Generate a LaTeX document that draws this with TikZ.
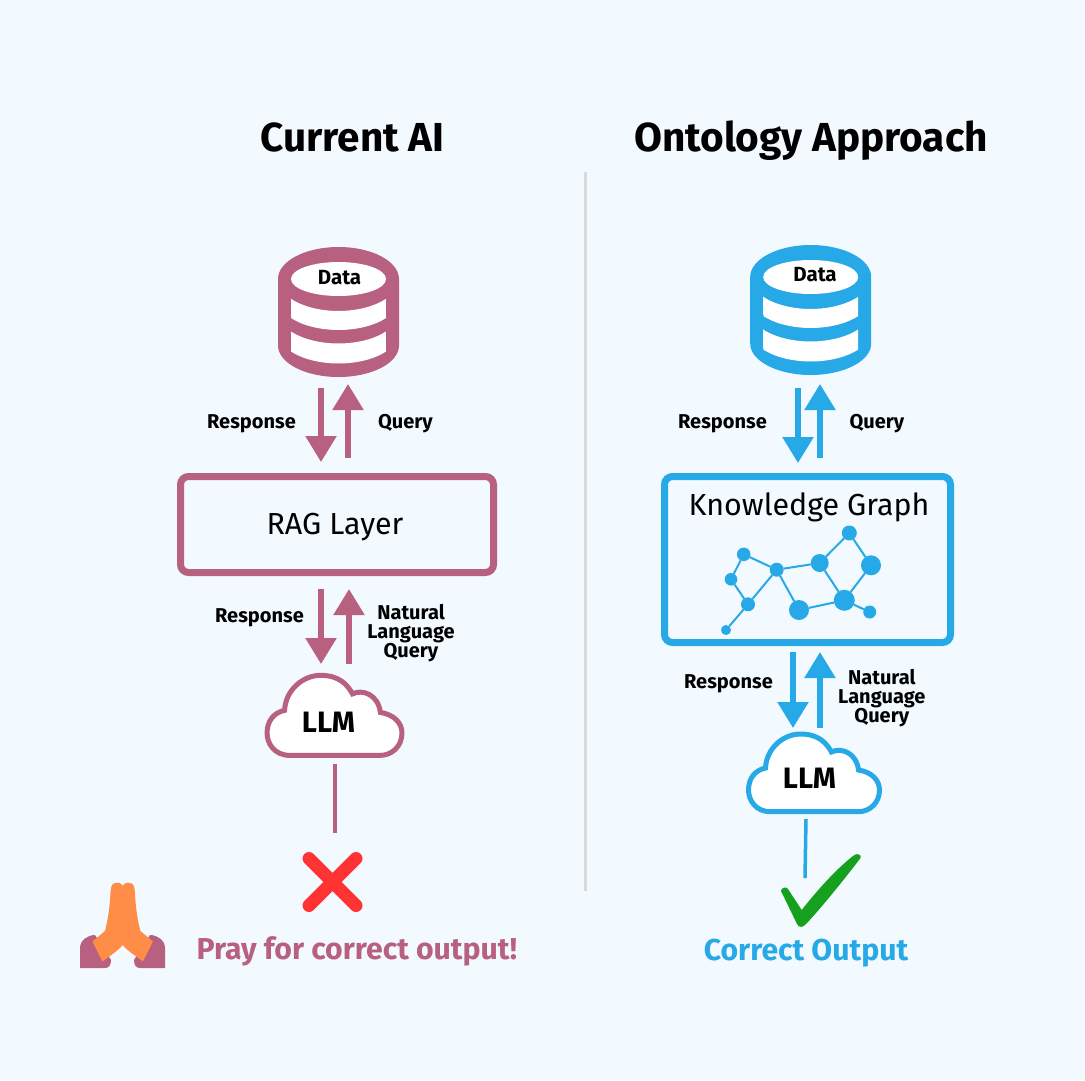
\documentclass[tikz,border=0pt]{standalone}
\usepackage{fontspec}
\setmainfont{Fira Sans}
\usetikzlibrary{arrows.meta}
\definecolor{bgc}{HTML}{F3FAFF}
\definecolor{mag}{HTML}{B8607F}
\definecolor{blu}{HTML}{27A9E8}
\definecolor{rul}{HTML}{D9D9D9}
\definecolor{okg}{HTML}{15A01E}
\definecolor{nok}{HTML}{FF3333}
\definecolor{hand}{HTML}{FF8C47}
\tikzset{
  every node/.style={inner sep=0pt,outer sep=0pt,text=black},
  arr/.style={line width=5.5pt,-{Triangle[width=30pt,length=26pt]},shorten >=0pt},
  lbl/.style={font=\fontsize{20}{20}\selectfont\bfseries,align=center},
  datal/.style={font=\fontsize{20.5}{21}\selectfont\bfseries},
  head/.style={font=\fontsize{40.5}{42}\selectfont\bfseries},
  layer/.style={font=\fontsize{30.4}{32}\selectfont},
  llm/.style={font=\fontsize{29.5}{30}\selectfont\bfseries},
  outtxt/.style={font=\fontsize{30.2}{32}\selectfont\bfseries},
  boxy/.style={line width=7pt,rounded corners=8pt},
  gn/.style={circle,fill=blu},
  ge/.style={blu,line width=2pt},
  pics/db/.style={code={
    \fill[#1] (-60.5,-33) arc[start angle=180,end angle=360,x radius=60.5,y radius=32]
      -- (60.5,33.5) arc[start angle=0,end angle=180,x radius=60.5,y radius=31.5] -- cycle;
    \fill[white] (0,-33) ellipse[x radius=47.5,y radius=17];
    \fill[white] (-47.5,-13.2) arc[start angle=141.7,end angle=38.3,x radius=60.5,y radius=32]
      -- (47.5,6) arc[start angle=38.3,end angle=141.7,x radius=60.5,y radius=31.5] -- cycle;
    \fill[white] (-47.5,19.5) arc[start angle=141.7,end angle=38.3,x radius=60.5,y radius=31.5]
      -- (47.5,39.5) arc[start angle=38.3,end angle=141.7,x radius=60.5,y radius=31.5] -- cycle;
  }},
  pics/cld/.style={code={
    \draw[#1,fill=white,line width=5pt]
     (-43,38.7) .. controls (-58,38.7) and (-65,27) .. (-65,17)
     .. controls (-65,5) and (-58,-3) .. (-48,-5)
     .. controls (-47,-25) and (-30,-39) .. (-13,-39)
     .. controls (5,-39) and (13,-30) .. (18,-21)
     .. controls (28,-26) and (43,-20) .. (45,-3)
     .. controls (58,-1) and (66,7) .. (66,17)
     .. controls (66,30) and (56,38.7) .. (45,38.7) -- cycle;
  }}
}
\begin{document}
\begin{tikzpicture}[x=1pt,y=-1pt]
\useasboundingbox (0,0) rectangle (1085,1080);
\fill[bgc] (0,0) rectangle (1085,1080);
% headings
\node[head] (h1) at (352.5,137) {Current AI};
\node[head] (h2) at (811,141) {Ontology Approach};
\coordinate (ruleT) at (585.5,172);
\coordinate (ruleB) at (585.5,891);
\draw[rul,line width=3.5pt] (ruleT) -- (ruleB);
% left column
\pic at (338.5,312) {db=mag};
\node[datal] (dataL) at (339.5,277.5) {Data};
\coordinate (a1s) at (321,388); \coordinate (a1e) at (321,462);
\coordinate (a2s) at (348,458); \coordinate (a2e) at (348,384);
\draw[arr,mag] (a1s) -- (a1e);
\draw[arr,mag] (a2s) -- (a2e);
\node[lbl] (r1) at (251.5,424) {Response};
\node[lbl] (q1) at (405.5,424) {Query};
\draw[boxy,mag] (180.5,476.5) rectangle (493.5,572.5);
\node[layer] (rag) at (335,527) {RAG Layer};
\coordinate (a3s) at (321,589); \coordinate (a3e) at (321,664);
\coordinate (a4s) at (349,664); \coordinate (a4e) at (349,589);
\draw[arr,mag] (a3s) -- (a3e);
\draw[arr,mag] (a4s) -- (a4e);
\node[lbl] (r2) at (259.5,618) {Response};
\node[lbl] (n1) at (411,633.5) {Natural\\[-1pt]Language\\[-1pt]Query};
\pic[scale=1.03] at (334,715.5) {cld=mag};
\node[llm] (llm1) at (328.5,722) {LLM};
\coordinate (l1s) at (335,764); \coordinate (l1e) at (335,833);
\draw[mag,line width=3.5pt] (l1s) -- (l1e);
\coordinate (x1) at (309,858.5); \coordinate (x2) at (356,905.5);
\coordinate (x3) at (356,858.5); \coordinate (x4) at (309,905.5);
\draw[nok,line width=13pt,line cap=round] (x1) -- (x2) (x3) -- (x4);
% praying hands
\fill[mag] (80,968) -- (80,948) .. controls (80,940) and (88,935) .. (95,935) -- (111,960) .. controls (111,965) and (109,968) .. (105,968) -- cycle;
\fill[mag] (165,968) -- (165,948) .. controls (165,940) and (157,935) .. (150,935) -- (134,960) .. controls (134,965) and (136,968) .. (140,968) -- cycle;
\fill[hand] (122.7,886) .. controls (122,883.5) and (118,882) .. (116,883) .. controls (112,883) and (111,886) .. (110.5,892) .. controls (110,905) and (108,920) .. (105,931) -- (92.5,941.5) -- (102.5,961.5) .. controls (108,957) and (118,951) .. (122.7,945)
  .. controls (127.4,951) and (137.4,957) .. (142.9,961.5) -- (152.9,941.5) -- (140.4,931) .. controls (137.4,920) and (135.4,905) .. (134.9,892) .. controls (134.4,886) and (133.4,883) .. (129.4,883) .. controls (127.4,882) and (123.4,883.5) .. (122.7,886) -- cycle;
\node[outtxt,text=mag] (pray) at (356.8,951) {Pray for correct output!};
% right column
\pic at (810.7,310) {db=blu};
\node[datal] (dataR) at (815,274.5) {Data};
\coordinate (b1s) at (798,388); \coordinate (b1e) at (798,463);
\coordinate (b2s) at (820,458); \coordinate (b2e) at (820,384);
\draw[arr,blu] (b1s) -- (b1e);
\draw[arr,blu] (b2s) -- (b2e);
\node[lbl] (r3) at (722.5,424) {Response};
\node[lbl] (q2) at (877,424) {Query};
\draw[boxy,blu] (664.5,476.5) rectangle (950.5,642.5);
\node[layer] (kg) at (809,507) {Knowledge Graph};
\node[gn,minimum size=13.6pt] (g1) at (743.7,554.3) {};
\node[gn,minimum size=12.6pt] (g2) at (731,579.3) {};
\node[gn,minimum size=14pt] (g3) at (748,604.3) {};
\node[gn,minimum size=10pt] (g4) at (726,630) {};
\node[gn,minimum size=14pt] (g5) at (776.7,569.7) {};
\node[gn,minimum size=18pt] (g6) at (819.7,563) {};
\node[gn,minimum size=15pt] (g7) at (849.3,533) {};
\node[gn,minimum size=20pt] (g8) at (871,565.3) {};
\node[gn,minimum size=21pt] (g9) at (844.3,600.3) {};
\node[gn,minimum size=20pt] (g10) at (799,610) {};
\node[gn,minimum size=13pt] (g11) at (869.7,612) {};
\foreach \a/\b in {g4/g3,g3/g2,g2/g1,g1/g5,g5/g3,g5/g6,g5/g10,g10/g9,g9/g6,g6/g7,g7/g8,g8/g9,g9/g11}
  \draw[ge] (\a) -- (\b);
\coordinate (b3s) at (793,652); \coordinate (b3e) at (793,728);
\coordinate (b4s) at (820,728); \coordinate (b4e) at (820,652);
\draw[arr,blu] (b3s) -- (b3e);
\draw[arr,blu] (b4s) -- (b4e);
\node[lbl] (r4) at (728.5,684) {Response};
\node[lbl] (n2) at (881.8,698.5) {Natural\\[-1pt]Language\\[-1pt]Query};
\pic at (813.5,773) {cld=blu};
\node[llm] (llm2) at (809.5,778) {LLM};
\coordinate (l2s) at (806,819); \coordinate (l2e) at (805,878);
\draw[blu,line width=3.5pt] (l2s) -- (l2e);
\fill[okg] (781,891) .. controls (781,888) and (786,886) .. (788,889) -- (801.7,910)
  .. controls (815,893) and (835,870) .. (853,856) .. controls (857,852) and (862,855) .. (860.5,858)
  .. controls (843,881) and (821,908) .. (807,923) .. controls (803,928) and (799,928) .. (797,924) -- cycle;
\node[outtxt,text=blu] (corr) at (806,953) {Correct Output};
\end{tikzpicture}
\end{document}
